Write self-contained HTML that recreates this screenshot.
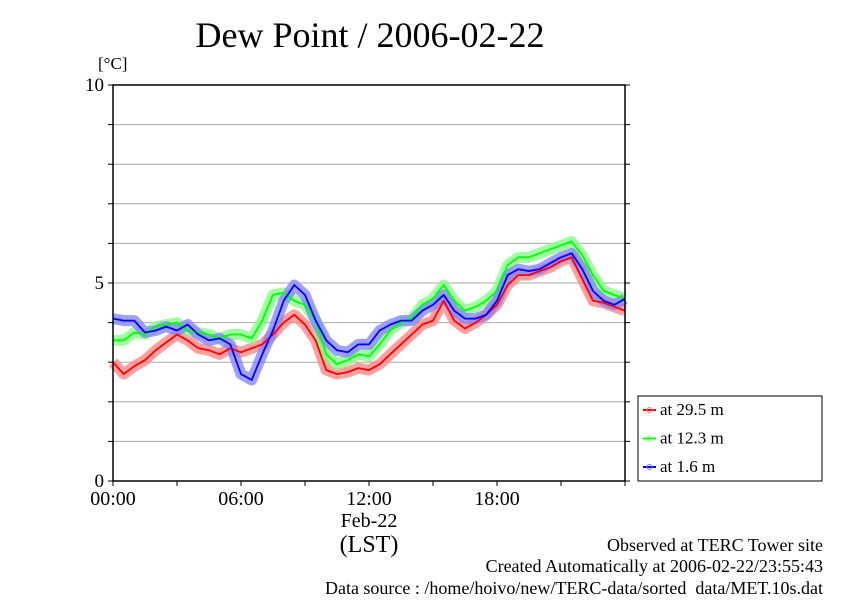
<!DOCTYPE html>
<html><head><meta charset="utf-8"><style>
body{margin:0;background:#fff;width:842px;height:595px;overflow:hidden}
svg{font-family:"Liberation Serif",serif}
</style></head><body>
<svg id="c" width="842" height="595">
<text x="370" y="47" font-size="36" text-anchor="middle">Dew Point / 2006-02-22</text>
<text x="98" y="69" font-size="17">[°C]</text>
<g id="grid"></g>
<g id="series"></g>
<rect x="113" y="85" width="512" height="396" fill="none" stroke="#000" stroke-width="1.5"/>
<g id="axes"></g>
<text x="369" y="527" font-size="20" text-anchor="middle">Feb-22</text>
<text x="369" y="552" font-size="24" text-anchor="middle">(LST)</text>
<g>
<rect x="638" y="396" width="184" height="85" fill="#fff" stroke="#000" stroke-width="1"/>
<g id="legend"></g>
</g>
<g font-size="18" text-anchor="end">
<text x="823" y="551">Observed at TERC Tower site</text>
<text x="823" y="572">Created Automatically at 2006-02-22/23:55:43</text>
<text x="823" y="594">Data source : /home/hoivo/new/TERC-data/sorted_data/MET.10s.dat</text>
</g>
</svg>
<script>
const hours=[0,0.5,1,1.5,2,2.5,3,3.5,4,4.5,5,5.5,6,6.5,7,7.5,8,8.5,9,9.5,10,10.5,11,11.5,12,12.5,13,13.5,14,14.5,15,15.5,16,16.5,17,17.5,18,18.5,19,19.5,20,20.5,21,21.5,22,22.5,23,23.5,24];
const red=[3.0,2.7,2.9,3.05,3.3,3.5,3.7,3.55,3.35,3.3,3.2,3.35,3.25,3.35,3.45,3.7,4.0,4.2,3.95,3.55,2.8,2.7,2.75,2.85,2.8,2.95,3.2,3.45,3.7,3.95,4.05,4.55,4.05,3.85,4.0,4.2,4.45,4.95,5.2,5.2,5.3,5.4,5.55,5.65,5.1,4.55,4.5,4.4,4.3];
const green=[3.55,3.55,3.75,3.7,3.9,3.95,4.0,3.8,3.75,3.7,3.6,3.7,3.7,3.6,4.05,4.7,4.75,4.55,4.45,4.05,3.2,2.95,3.05,3.2,3.15,3.45,3.8,4.0,4.1,4.45,4.6,4.95,4.55,4.3,4.4,4.55,4.8,5.45,5.65,5.65,5.75,5.85,5.95,6.05,5.7,5.2,4.8,4.7,4.6];
const blue=[4.1,4.05,4.05,3.75,3.8,3.9,3.8,3.95,3.7,3.55,3.6,3.45,2.7,2.55,3.2,3.8,4.55,4.95,4.7,4.05,3.55,3.3,3.25,3.45,3.45,3.8,3.95,4.05,4.05,4.3,4.45,4.7,4.3,4.1,4.1,4.2,4.55,5.2,5.35,5.3,5.35,5.5,5.65,5.75,5.35,4.8,4.55,4.45,4.6];
const yTicks=[0,5,10];
const xTickLabels=["00:00","06:00","12:00","18:00"];
const xTickHours=[0,6,12,18];
const legendLabels=["at 29.5 m","at 12.3 m","at 1.6 m"];
const NS="http://www.w3.org/2000/svg";
const X=h=>113+h*512/24, Y=v=>481-v*39.6;
function mk(t,a,p){const e=document.createElementNS(NS,t);for(const k in a)e.setAttribute(k,a[k]);p.appendChild(e);return e;}
const grid=document.getElementById('grid'),axes=document.getElementById('axes');
for(let v=1;v<10;v++){
 const l=mk('line',{x1:113,x2:625,y1:Y(v),y2:Y(v),stroke:'#aaa','stroke-width':1},grid);
 
 
}
for(let v=0;v<=10;v++){
 mk('line',{x1:108,x2:113,y1:Y(v),y2:Y(v),stroke:'#000'},axes);
 mk('line',{x1:625,x2:630,y1:Y(v),y2:Y(v),stroke:'#000'},axes);
}
yTicks.forEach(v=>{const t=mk('text',{x:104,y:Y(v)+6,'font-size':19,'text-anchor':'end'},axes);t.textContent=v;
 
 });
for(let h=0;h<=24;h+=3){mk('line',{x1:X(h),x2:X(h),y1:481,y2:486,stroke:'#000'},axes);}
xTickHours.forEach((h,i)=>{const t=mk('text',{x:X(h),y:505,'font-size':20,'text-anchor':'middle'},axes);t.textContent=xTickLabels[i];
 
 });
const ser=document.getElementById('series');
const sets=[[red,'#ff0000','#ff8080'],[green,'#00ff00','#80ff80'],[blue,'#0000ff','#8080ff']];
const names=['series-29-5m','series-12-3m','series-1-6m'];
sets.forEach((s,i)=>{
 const d=s[0].map((v,j)=>(j?'L':'M')+X(hours[j]).toFixed(1)+' '+Y(v).toFixed(1)).join(' ');
 const b=mk('path',{d:d,fill:'none',stroke:s[2],'stroke-width':11,'stroke-linejoin':'round',opacity:0.75},ser);
 
 
});
sets.forEach((s,i)=>{
 const d=s[0].map((v,j)=>(j?'L':'M')+X(hours[j]).toFixed(1)+' '+Y(v).toFixed(1)).join(' ');
 const p=mk('path',{d:d,fill:'none',stroke:s[1],'stroke-width':1.8,'stroke-linejoin':'round'},ser);
 
 
});
const lg=document.getElementById('legend');
legendLabels.forEach((lab,i)=>{
 const y=410+i*28.5;
 const g=mk('g',{},lg);
 
 
 mk('line',{x1:643,x2:656,y1:y,y2:y,stroke:sets[i][1],'stroke-width':2},g);
 mk('circle',{cx:649.5,cy:y,r:2.5,fill:'none',stroke:sets[i][2]},g);
 const t=mk('text',{x:660,y:y+5,'font-size':17},g);t.textContent=lab;
});
</script>
</body></html>
